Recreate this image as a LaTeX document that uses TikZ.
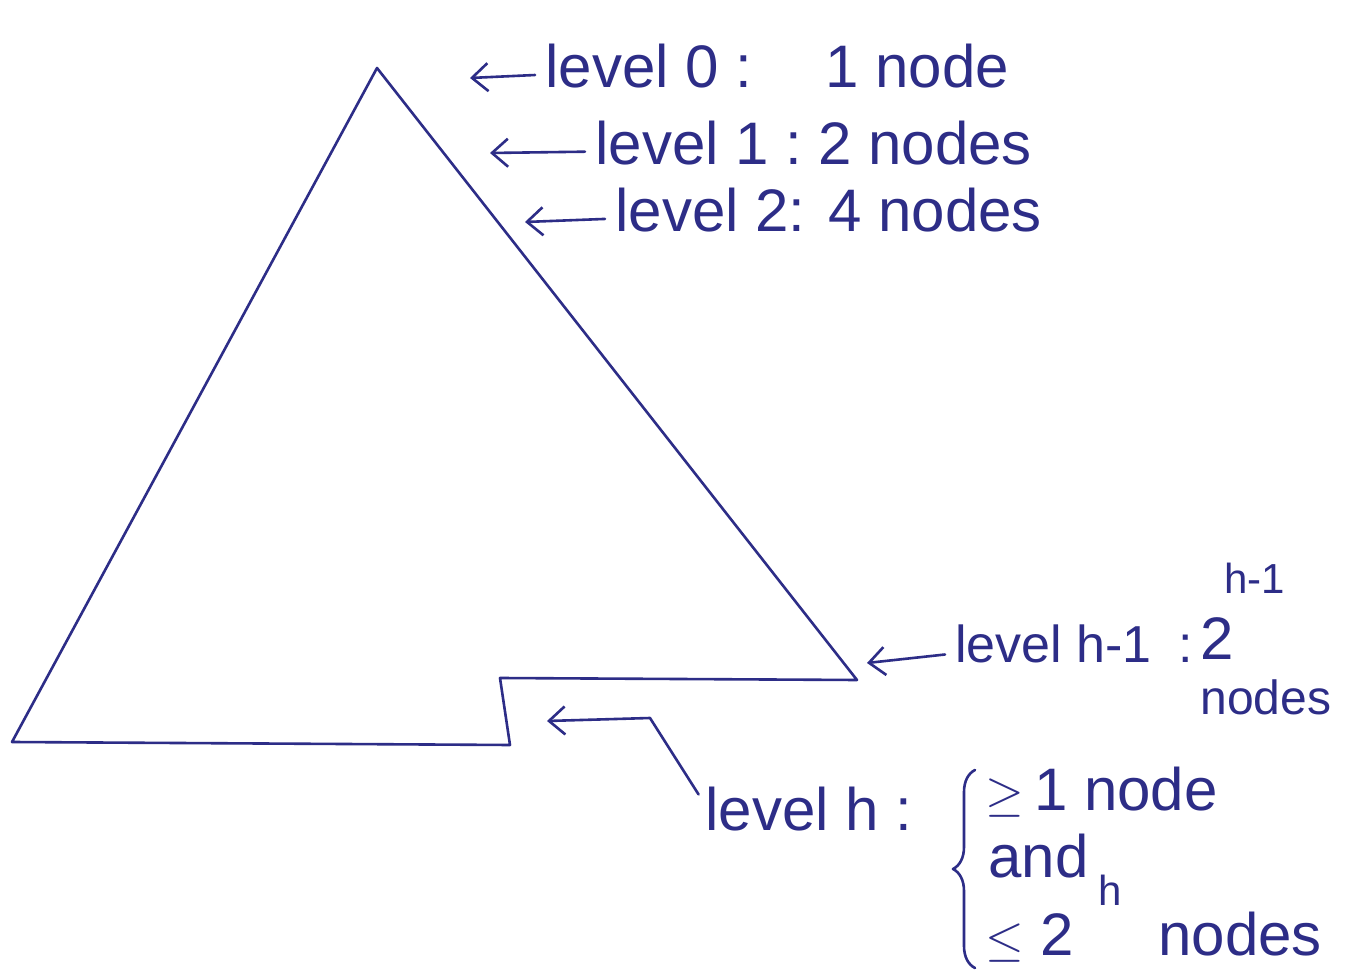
\documentclass[tikz,border=0pt]{standalone}
\usepackage{fontspec}
\setmainfont{Liberation Sans}
\usetikzlibrary{arrows.meta,decorations.pathreplacing}
\definecolor{pen}{RGB}{45,45,135}
\begin{document}
\begin{tikzpicture}[x=0.5pt,y=-0.5pt,
  pen/.style={draw=pen,line width=1.3pt,line join=round,line cap=round},
  lab/.style={text=pen,inner sep=0pt,anchor=base west,font=\fontsize{30}{36}\selectfont},
  smlab/.style={text=pen,inner sep=0pt,anchor=base west,font=\fontsize{26}{31}\selectfont},
  suplab/.style={text=pen,inner sep=0pt,anchor=base west,font=\fontsize{21}{25}\selectfont},
  arr/.style={pen,-{Straight Barb[length=8pt,width=14pt,line width=1.3pt]},shorten <=5pt}]
\useasboundingbox (0,0) rectangle (1345,978);
\fill[white] (0,0) rectangle (1345,978);
% outline of the tree
\draw[pen] (377,68) -- (857,680) -- (500,678) -- (510,745) -- (12,742) -- cycle;
% arrow tips
\coordinate (t0) at (470,78);
\coordinate (t1) at (490,153);
\coordinate (t2) at (525,222);
\coordinate (thm) at (867,663);
\coordinate (th) at (547,721);
\coordinate (hbend) at (650,718);
% level 0
\node[lab] (l0) at (545,88) {level 0 :};
\node[lab] (n0) at (825,88) {1 node};
% level 1
\node[lab] (l1) at (595,165) {level 1 :};
\node[lab] (n1) at (818,165) {2 nodes};
% level 2
\node[lab] (l2) at (615,232) {level 2:};
\node[lab] (n2) at (828,232) {4 nodes};
% level h-1
\node[smlab] (lhm) at (955,662) {level h-1};
\node[smlab] (chm) at (1178,662) {:};
\node[lab] (thwo) at (1200,660) {2};
\node[suplab] (shm) at (1224,594) {h-1};
\node[suplab,font=\fontsize{24}{29}\selectfont] (nhm) at (1200,714) {nodes};
% level h
\node[lab] (lh) at (705,830) {level h :};
\node[lab] (ge) at (985,810) {$\geq$\,1 node};
\node[lab] (and) at (988,877) {and};
\node[lab] (le) at (985,955) {$\leq$ 2};
\node[suplab] (sh) at (1098,905) {h};
\node[lab] (nh) at (1158,955) {nodes};
\draw[pen,decorate,decoration={brace,amplitude=11pt,aspect=0.5}] (975,968) -- (975,770);
% arrows
\draw[arr] ([yshift=-4pt]l0.west) -- (t0);
\draw[arr] ([yshift=-4pt]l1.west) -- (t1);
\draw[arr] ([yshift=-4pt]l2.west) -- (t2);
\draw[arr] ([yshift=-5pt]lhm.west) -- (thm);
\draw[pen,-{Straight Barb[length=8pt,width=14pt,line width=1.3pt]},shorten <=6pt] ([yshift=2pt]lh.west) -- (hbend) -- (th);
\end{tikzpicture}
\end{document}
